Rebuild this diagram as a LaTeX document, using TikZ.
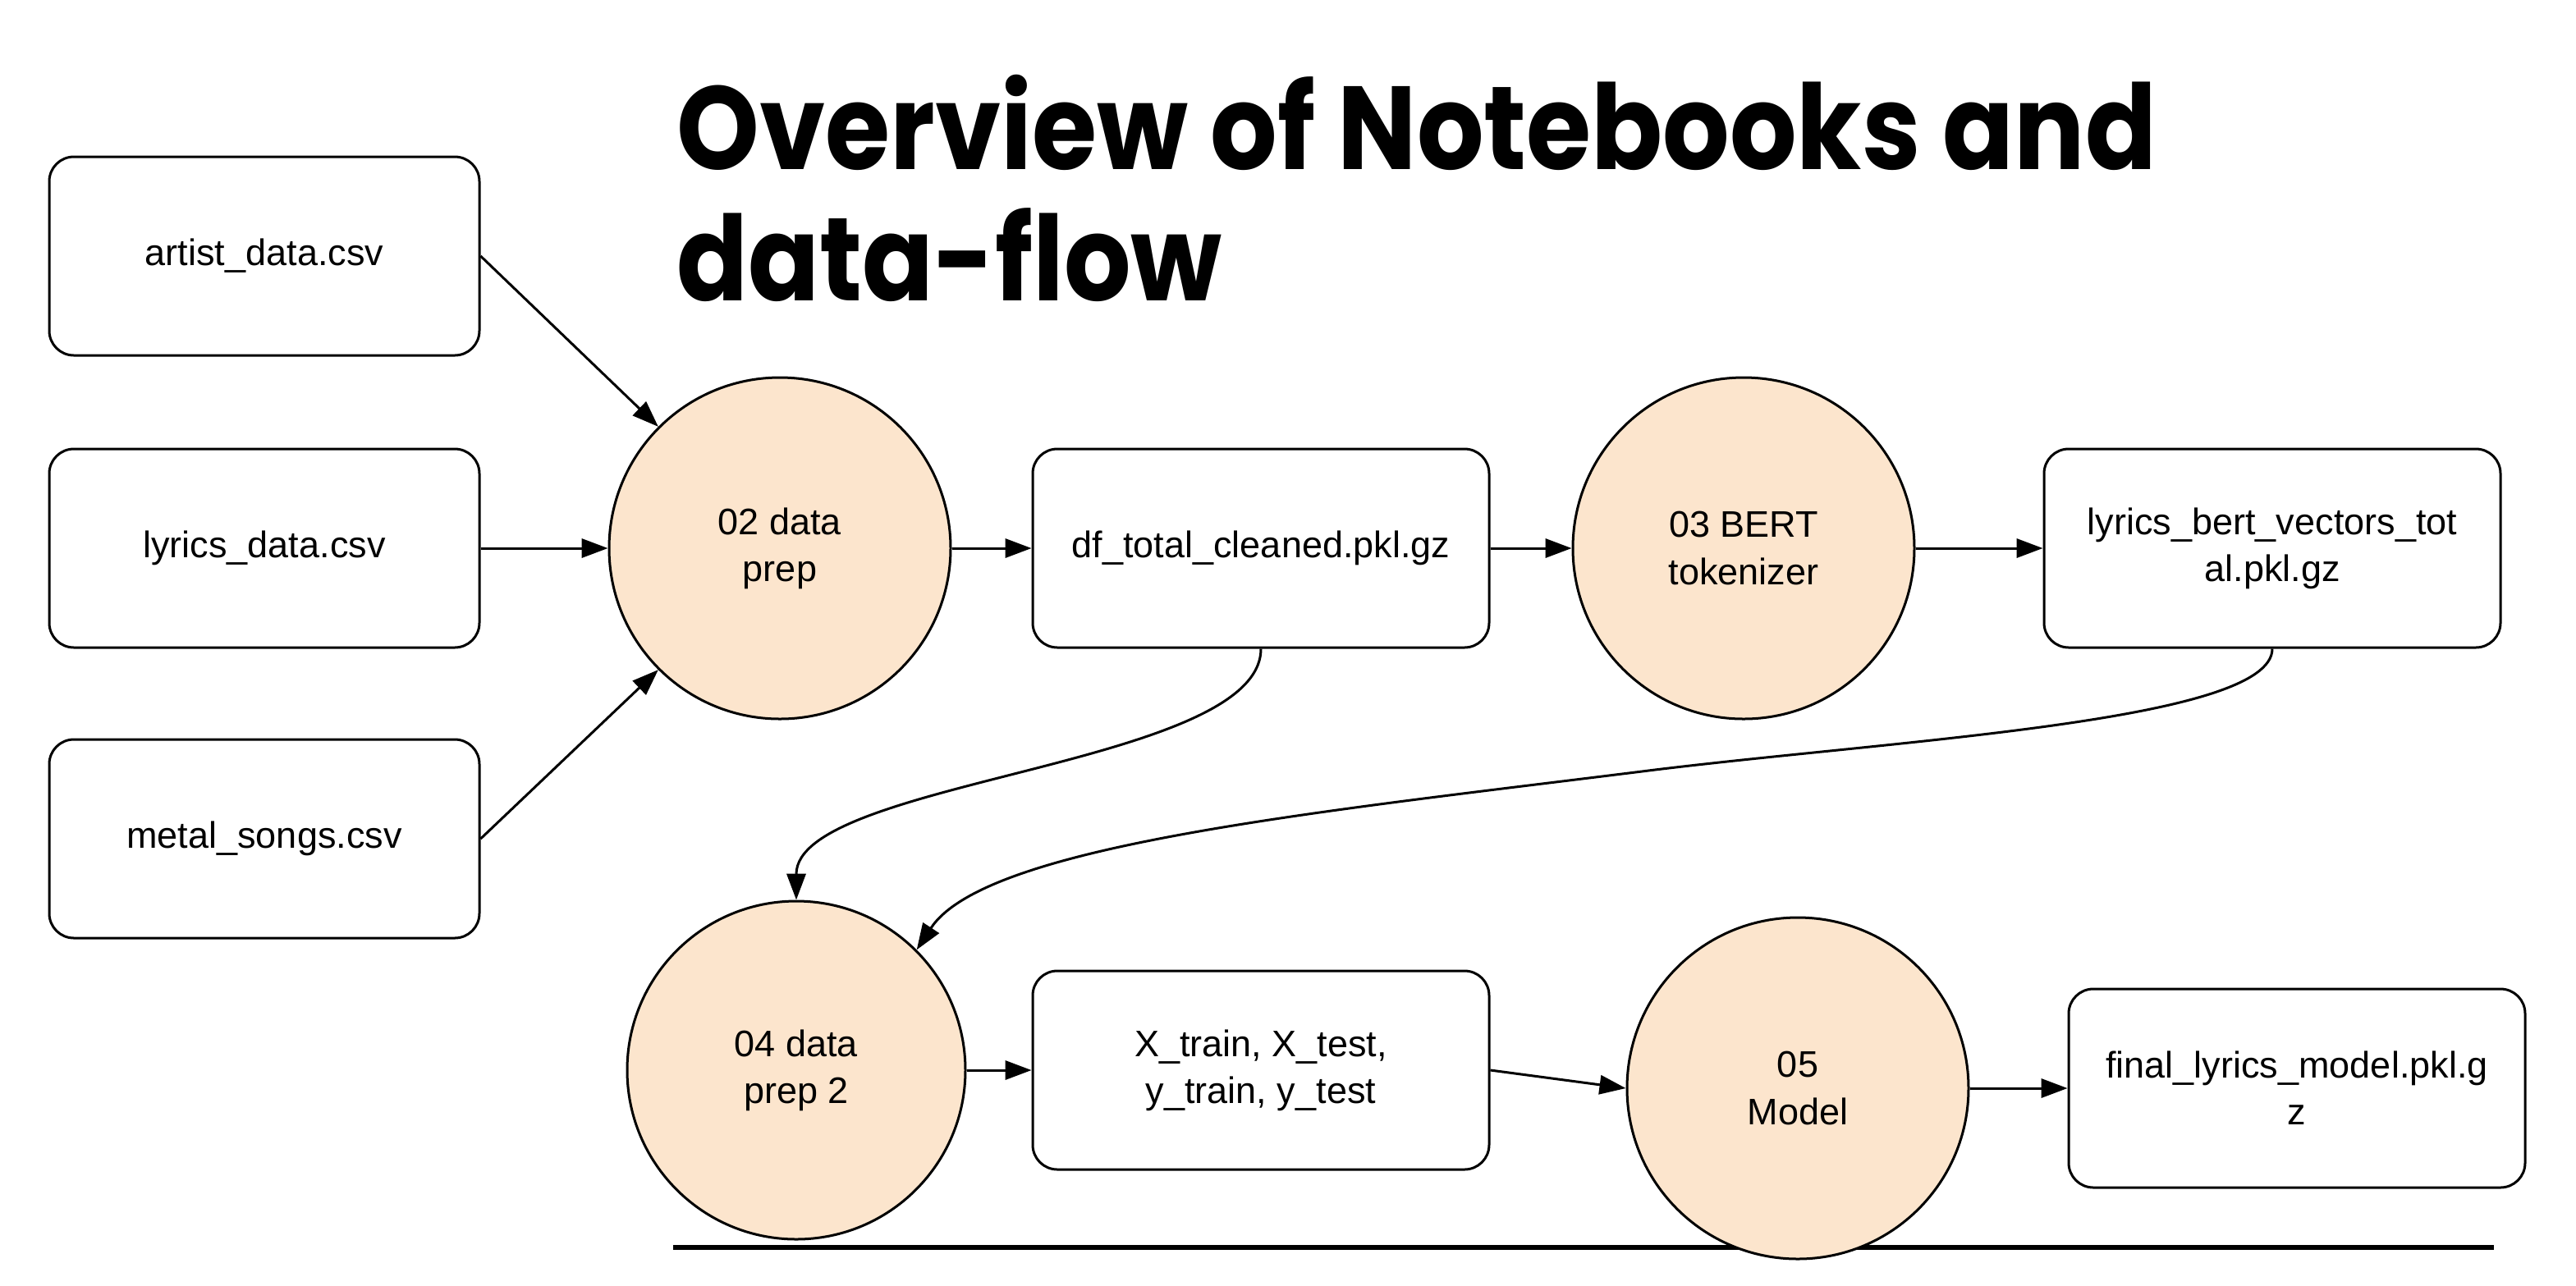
\documentclass[tikz,border=0pt]{standalone}
\usepackage{fontspec}
\setmainfont{Liberation Sans}
\newfontfamily\titlefont{Poppins}[UprightFont=* Bold, FakeStretch=0.89]
\usetikzlibrary{arrows.meta}
\definecolor{procfill}{HTML}{FCE5CD}
\begin{document}
\begin{tikzpicture}[x=0.5pt,y=-0.5pt,
  filebox/.style={draw, line width=0.75pt, rounded corners=7.5pt, minimum width=131pt, minimum height=60.5pt, align=center, inner sep=2pt, font=\fontsize{11.25}{14.3}\selectfont},
  proc/.style={draw, line width=0.75pt, circle, fill=procfill, minimum size=104pt, align=center, inner sep=0pt, font=\fontsize{11.25}{14.3}\selectfont},
  flow/.style={line width=0.75pt, -{Triangle[length=8pt,width=5.8pt]}},
  titletext/.style={anchor=base west, font=\titlefont\fontsize{36}{40}\selectfont, inner sep=0pt},
  every node/.style={text=black}]
\useasboundingbox (0,0) rectangle (1569,783);
\fill[white] (0,0) rectangle (1569,783);
\node[titletext] (t1) at (412,103) {Overview of Notebooks and};
\node[titletext] (t2) at (412,183) {data-flow};
\coordinate (ls) at (410,760);
\coordinate (le) at (1519,760);
\draw[line width=1.6pt] (ls) -- (le);
\node[filebox] (artist) at (161,156) {artist\_data.csv};
\node[filebox] (lyrics) at (161,334) {lyrics\_data.csv};
\node[filebox] (metal) at (161,511) {metal\_songs.csv};
\node[proc] (p02) at (475,334) {02 data\\prep};
\node[filebox, minimum width=139pt] (df) at (768,334) {df\_total\_cleaned.pkl.gz};
\node[proc] (p03) at (1062,334) {03 BERT\\tokenizer};
\node[filebox, minimum width=139pt] (bert) at (1384,334) {lyrics\_bert\_vectors\_tot\\al.pkl.gz};
\node[proc, minimum size=103pt] (p04) at (485,652) {04 data\\prep 2};
\node[filebox, minimum width=139pt] (xtr) at (768,652) {X\_train, X\_test,\\y\_train, y\_test};
\node[proc] (p05) at (1095,663) {05\\Model};
\node[filebox, minimum width=139pt] (final) at (1399,663) {final\_lyrics\_model.pkl.g\\z};
\draw[flow] (artist.east) -- (p02.135);
\draw[flow] (lyrics.east) -- (p02.west);
\draw[flow] (metal.east) -- (p02.225);
\draw[flow] (p02.east) -- (df.west);
\draw[flow] (df.east) -- (p03.west);
\draw[flow] (p03.east) -- (bert.west);
\draw[flow] (df.south) .. controls (768,467) and (485,475) .. (p04.north);
\draw[flow] (bert.south) .. controls (1384,440) and (1150,451) .. (1000,470) .. controls (800,495) and (600,515) .. (p04.45);
\draw[flow] (p04.east) -- (xtr.west);
\draw[flow] (xtr.east) -- (p05.west);
\draw[flow] (p05.east) -- (final.west);
\end{tikzpicture}
\end{document}
